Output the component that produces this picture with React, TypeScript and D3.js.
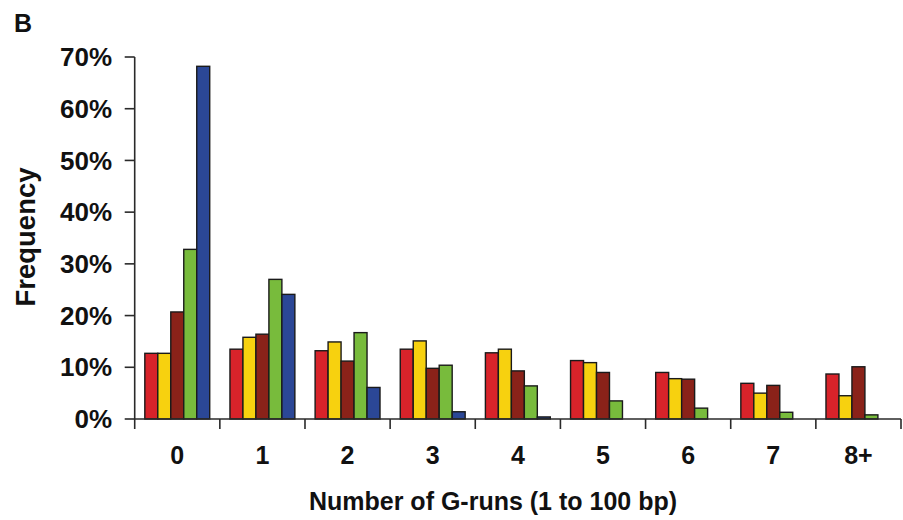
import React from "react";
import * as d3 from "d3";

const categories = ["0", "1", "2", "3", "4", "5", "6", "7", "8+"];
const seriesNames = ["s1", "s2", "s3", "s4", "s5"];
const seriesColors = ["#d8232a", "#f7d10f", "#8a2219", "#78bb3c", "#2b4796"];
const s1 = [12.7, 13.5, 13.2, 13.5, 12.8, 11.3, 9.0, 6.9, 8.7];
const s2 = [12.7, 15.8, 14.9, 15.1, 13.5, 10.9, 7.8, 5.0, 4.5];
const s3 = [20.7, 16.4, 11.2, 9.8, 9.3, 9.0, 7.7, 6.5, 10.1];
const s4 = [32.8, 27.0, 16.7, 10.4, 6.4, 3.5, 2.1, 1.3, 0.8];
const s5 = [68.2, 24.1, 6.1, 1.4, 0.4, 0, 0, 0, 0];
const seriesValues = [s1, s2, s3, s4, s5];
const yTicks = [0, 10, 20, 30, 40, 50, 60, 70];
const xTitle = "Number of G-runs (1 to 100 bp)";
const yTitle = "Frequency";
const panelLabel = "B";

const W = 903;
const H = 520;
const FONT = "'Liberation Sans', Arial, sans-serif";

export default function App() {
  const x = d3.scaleBand().domain(categories).range([134.7, 901]).padding(0);
  const x1 = d3
    .scaleBand()
    .domain(seriesNames)
    .range([0, x.bandwidth()])
    .paddingInner(0)
    .paddingOuter(0.78);
  const y = d3.scaleLinear().domain([0, 70]).range([419, 57]);
  const axisColor = "#2a2a2a";
  const x0 = x.range()[0];
  const xEnd = x.range()[1];

  return (
    <svg
      width={W}
      height={H}
      style={{ position: "absolute", left: 0, top: 0, background: "#fff" }}
      fontFamily={FONT}
      fontWeight="bold"
    >
      <text x={14} y={32} fontSize={25} fill="#111">
        {panelLabel}
      </text>

      {/* bars */}
      {categories.map((c, i) => (
        <g key={c} transform={`translate(${x(c)},0)`}>
          {seriesNames.map((s, j) => {
            const v = seriesValues[j][i];
            if (v <= 0) return null;
            return (
              <rect
                key={s}
                x={x1(s)}
                y={y(v)}
                width={x1.bandwidth()}
                height={y(0) - y(v)}
                fill={seriesColors[j]}
                stroke="#1a1a1a"
                strokeWidth={1.4}
              />
            );
          })}
        </g>
      ))}

      {/* y axis */}
      <line x1={x0} x2={x0} y1={y(70)} y2={y(0)} stroke={axisColor} strokeWidth={1.6} />
      {yTicks.map((t) => (
        <g key={t}>
          <line x1={x0 - 10} x2={x0} y1={y(t)} y2={y(t)} stroke={axisColor} strokeWidth={1.6} />
          <text
            x={112}
            y={y(t)}
            dy="0.35em"
            textAnchor="end"
            fontSize={26}
            fill="#111"
          >
            {t}%
          </text>
        </g>
      ))}

      {/* x axis */}
      <line x1={x0} x2={xEnd} y1={y(0)} y2={y(0)} stroke={axisColor} strokeWidth={1.6} />
      {categories.map((c) => (
        <line
          key={c}
          x1={x(c)}
          x2={x(c)}
          y1={y(0)}
          y2={y(0) + 10}
          stroke={axisColor}
          strokeWidth={1.6}
        />
      ))}
      <line x1={xEnd} x2={xEnd} y1={y(0)} y2={y(0) + 10} stroke={axisColor} strokeWidth={1.6} />
      {categories.map((c) => (
        <text
          key={c}
          x={(x(c) as number) + x.bandwidth() / 2}
          y={464}
          textAnchor="middle"
          fontSize={25}
          fill="#111"
        >
          {c}
        </text>
      ))}

      <text x={493} y={510} textAnchor="middle" fontSize={25} fill="#111">
        {xTitle}
      </text>
      <text
        transform={`translate(35,237) rotate(-90)`}
        textAnchor="middle"
        fontSize={27.5}
        fill="#111"
      >
        {yTitle}
      </text>
    </svg>
  );
}
